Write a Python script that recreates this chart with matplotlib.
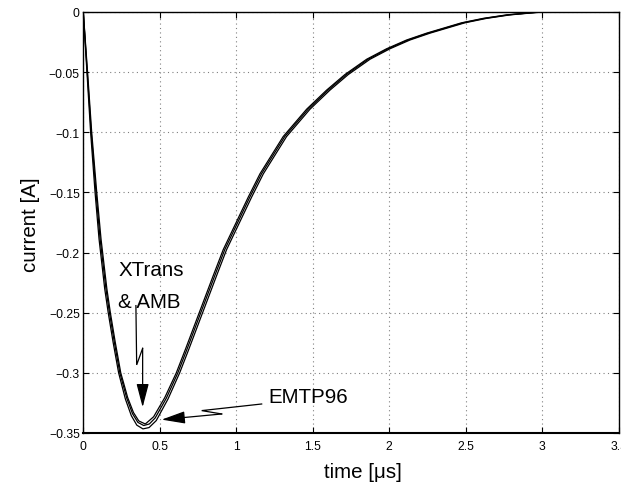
"""Transient current comparison: EMTP96 vs XTrans & AMB.

Three nearly overlapping current waveforms, MATLAB-style axes with dotted grid
and lightning-bolt annotation arrows.
"""

import matplotlib

matplotlib.use("Agg")
import matplotlib.pyplot as plt

# EMTP96 (outer curve): time [us] and current [A]
time_emtp96 = [0, 0.024, 0.048, 0.077, 0.103, 0.140, 0.163, 0.195, 0.231, 0.275,
               0.314, 0.350, 0.390, 0.430, 0.477, 0.554, 0.630, 0.691, 0.771,
               0.826, 0.872, 0.937, 1.100, 1.177, 1.329, 1.482, 1.612, 1.732,
               1.874, 2.004, 2.135, 2.266, 2.494, 2.636, 2.789, 2.920, 3.0, 3.5]
current_emtp96 = [0, -0.05, -0.1, -0.15, -0.1887, -0.23, -0.25, -0.2746, -0.30,
                  -0.3217, -0.3356, -0.3435, -0.3466, -0.3455, -0.3397, -0.3217,
                  -0.300, -0.280, -0.253, -0.2345, -0.219, -0.1975, -0.154,
                  -0.1345, -0.1035, -0.0808, -0.065, -0.052, -0.0393, -0.0306,
                  -0.0233, -0.0176, -0.009, -0.0053, -0.0024, -0.0009, 0, 0]

# XTrans (middle curve)
time_xtrans = [0, 0.026, 0.052, 0.083, 0.110, 0.148, 0.171, 0.203, 0.239, 0.284,
               0.322, 0.357, 0.395, 0.432, 0.470, 0.543, 0.618, 0.679, 0.759,
               0.814, 0.860, 0.925, 1.088, 1.165, 1.317, 1.470, 1.600, 1.720,
               1.862, 1.992, 2.123, 2.254, 2.482, 2.624, 2.777, 2.908, 2.99, 3.5]
current_xtrans = [0, -0.05, -0.1, -0.15, -0.1887, -0.23, -0.25, -0.2746, -0.30,
                  -0.3210, -0.3340, -0.3412, -0.3438, -0.3425, -0.3375, -0.3210,
                  -0.300, -0.280, -0.253, -0.2345, -0.219, -0.1975, -0.154,
                  -0.1345, -0.1035, -0.0808, -0.065, -0.052, -0.0393, -0.0306,
                  -0.0233, -0.0176, -0.009, -0.0053, -0.0024, -0.0009, 0, 0]

# AMB (inner curve)
time_amb = [0, 0.028, 0.055, 0.088, 0.116, 0.154, 0.177, 0.209, 0.245, 0.290,
            0.328, 0.363, 0.405, 0.415, 0.460, 0.533, 0.608, 0.669, 0.749,
            0.804, 0.850, 0.915, 1.078, 1.155, 1.307, 1.460, 1.590, 1.710,
            1.852, 1.982, 2.113, 2.244, 2.472, 2.614, 2.767, 2.898, 2.98, 3.5]
current_amb = [0, -0.05, -0.1, -0.15, -0.1887, -0.23, -0.25, -0.2746, -0.30,
               -0.3205, -0.3330, -0.3400, -0.3425, -0.3415, -0.3365, -0.3205,
               -0.300, -0.280, -0.253, -0.2345, -0.219, -0.1975, -0.154,
               -0.1345, -0.1035, -0.0808, -0.065, -0.052, -0.0393, -0.0306,
               -0.0233, -0.0176, -0.009, -0.0053, -0.0024, -0.0009, 0, 0]

x_ticks = [0, 0.5, 1, 1.5, 2, 2.5, 3, 3.5]
x_tick_labels = ["0", "0.5", "1", "1.5", "2", "2.5", "3", "3.5"]
y_ticks = [0, -0.05, -0.1, -0.15, -0.2, -0.25, -0.3, -0.35]
y_tick_labels = ["0", "\u22120.05", "\u22120.1", "\u22120.15", "\u22120.2",
                 "\u22120.25", "\u22120.3", "\u22120.35"]

FONT = ["Liberation Sans", "DejaVu Sans"]
LABEL_SIZE = 14.8
TICK_SIZE = 8.7


def lightning_arrow(ax, path, tip):
    """Draw a zig-zag leader line ending in a filled arrow head."""
    xs = [p[0] for p in path]
    ys = [p[1] for p in path]
    ax.plot(xs, ys, color="k", linewidth=0.9, solid_joinstyle="miter")
    ax.annotate(
        "",
        xy=tip,
        xytext=path[-1],
        arrowprops=dict(
            arrowstyle="-|>,head_length=1.45,head_width=0.38",
            mutation_scale=10,
            color="k",
            linewidth=0.9,
            shrinkA=0,
            shrinkB=0,
        ),
    )


def main():
    plt.rcParams["font.family"] = FONT

    fig = plt.figure(figsize=(6.21, 4.85), dpi=100)
    ax = fig.add_axes([0.1341, 0.1052, 0.8623, 0.8680])

    curves = [
        (time_emtp96, current_emtp96),
        (time_xtrans, current_xtrans),
        (time_amb, current_amb),
    ]
    for t, current in curves:
        ax.plot(t, current, color="k", linewidth=0.9)

    ax.set_xlim(0, 3.5)
    ax.set_ylim(-0.35, 0)
    ax.set_xticks(x_ticks)
    ax.set_xticklabels(x_tick_labels)
    ax.set_yticks(y_ticks)
    ax.set_yticklabels(y_tick_labels)
    ax.tick_params(direction="in", length=4, width=0.8, top=True, right=True,
                   labelsize=TICK_SIZE, colors="k")
    ax.tick_params(axis="y", pad=2.5)
    ax.tick_params(axis="x", pad=5)
    ax.grid(True, color="0.5", linestyle=(0, (1, 3)), linewidth=0.8)

    for side in ("left", "right", "top"):
        ax.spines[side].set_linewidth(1.0)
    ax.spines["bottom"].set_linewidth(1.5)

    ax.set_xlabel("time [\u03bcs]", fontsize=LABEL_SIZE)
    ax.xaxis.set_label_coords(0.522, -0.068)
    ax.set_ylabel("current [A]", fontsize=LABEL_SIZE)
    ax.yaxis.set_label_coords(-0.08, 0.496)

    # annotations
    ax.text(0.229, -0.2189, "XTrans", fontsize=LABEL_SIZE, va="baseline")
    ax.text(0.229, -0.2455, "& AMB", fontsize=LABEL_SIZE, va="baseline")
    lightning_arrow(ax, [(0.344, -0.2441), (0.349, -0.2934), (0.388, -0.2796)],
                    (0.388, -0.3286))

    ax.text(1.209, -0.3239, "EMTP96", fontsize=LABEL_SIZE, va="baseline")
    lightning_arrow(ax, [(1.166, -0.3259), (0.774, -0.3314), (0.905, -0.3342)],
                    (0.512, -0.3389))

    fig.savefig("out.png", dpi=100)
    plt.close(fig)


if __name__ == "__main__":
    main()
